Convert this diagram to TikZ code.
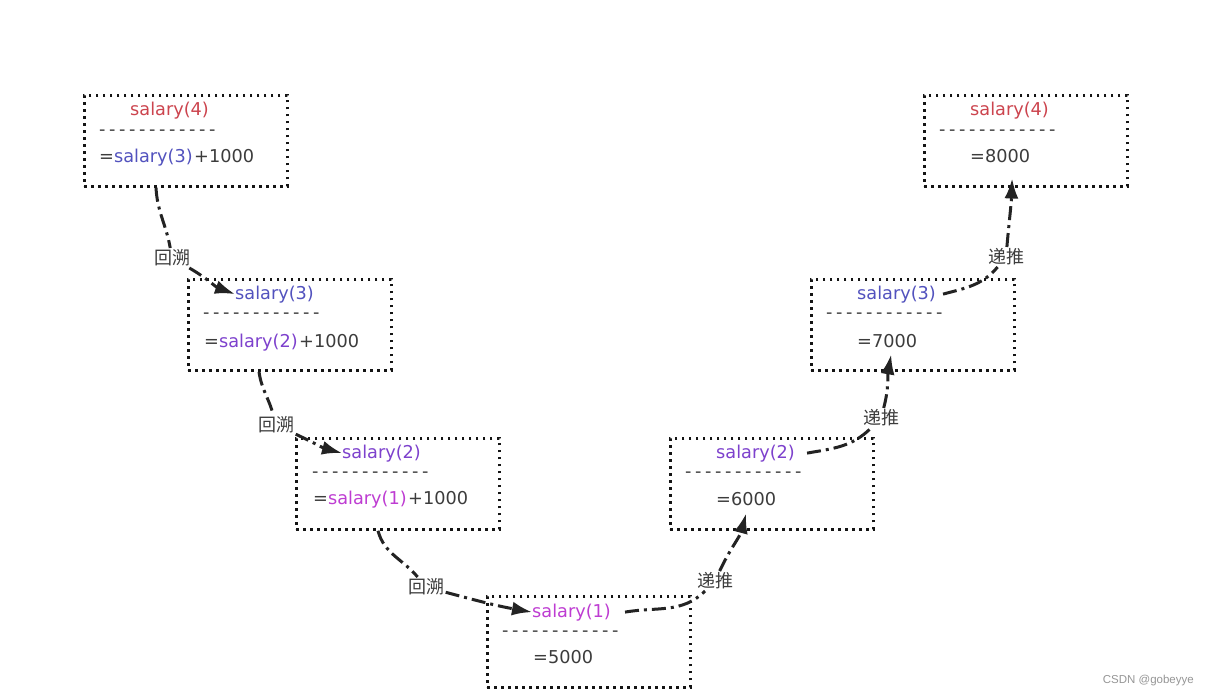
\documentclass[tikz,border=0pt]{standalone}
\usepackage{fontspec}
\setmainfont{DejaVu Sans}
\newfontfamily\cjk{Noto Sans CJK SC}
\newfontfamily\wmfont{Liberation Sans}
\usetikzlibrary{arrows.meta}
\definecolor{cred}{RGB}{204,68,78}
\definecolor{cblue}{RGB}{82,82,190}
\definecolor{cpurple}{RGB}{125,65,205}
\definecolor{cmag}{RGB}{190,60,210}
\definecolor{txt}{RGB}{60,60,60}
\definecolor{boxc}{RGB}{20,20,20}
\definecolor{linec}{RGB}{35,35,35}
\definecolor{wmc}{RGB}{150,150,150}
\newcommand\hyrow{\makebox[10pt]{-}\makebox[10pt]{-}\makebox[10pt]{-}\makebox[10pt]{-}\makebox[10pt]{-}\makebox[10pt]{-}\makebox[10pt]{-}\makebox[10pt]{-}\makebox[10pt]{-}\makebox[10pt]{-}\makebox[10pt]{-}\makebox[10pt]{-}}
\tikzset{
  dbox/.style={draw=boxc, line width=2.8pt, dash pattern=on 2.8pt off 4.2pt,
    minimum width=203pt, minimum height=91pt, anchor=north west, inner sep=0pt},
  txtnode/.style={anchor=base west, inner sep=0pt, text=txt, font=\fontsize{17.7}{20}\selectfont},
  dashnode/.style={anchor=west, inner sep=0pt, text=txt, font=\fontsize{17.7}{20}\selectfont},
  conn/.style={draw=linec, line width=3pt, dash pattern=on 14pt off 5pt on 3pt off 5pt},
  arr/.style={conn, -{Latex[length=20pt,width=14pt]}},
  lab/.style={font=\cjk\fontsize{18}{20}\selectfont, text=txt, fill=white, inner sep=1.5pt},
}
\begin{document}
\begin{tikzpicture}[x=1pt,y=-1pt]
\useasboundingbox (0,0) rectangle (1208,698);
\fill[white] (0,0) rectangle (1208,698);

% left column
\node[dbox] (L4) at (83,94) {};
\node[txtnode] (L4t) at (130,116) {\textcolor{cred}{salary(4)}};
\node[dashnode] (L4d) at (97,133) {\hyrow};
\node[txtnode] (L4f) at (99,163) {=\textcolor{cblue}{salary(3)}\kern1.5pt+1000};

\node[dbox] (L3) at (187,278) {};
\node[txtnode] (L3t) at (235,299) {\textcolor{cblue}{salary(3)}};
\node[dashnode] (L3d) at (201,316) {\hyrow};
\node[txtnode] (L3f) at (204,347) {=\textcolor{cpurple}{salary(2)}\kern1.5pt+1000};

\node[dbox] (L2) at (295,437) {};
\node[txtnode] (L2t) at (342,458) {\textcolor{cpurple}{salary(2)}};
\node[dashnode] (L2d) at (310,475) {\hyrow};
\node[txtnode] (L2f) at (313,504) {=\textcolor{cmag}{salary(1)}\kern1.5pt+1000};

% bottom
\node[dbox] (B1) at (486,595) {};
\node[txtnode] (B1t) at (532,617) {\textcolor{cmag}{salary(1)}};
\node[dashnode] (B1d) at (500,634) {\hyrow};
\node[txtnode] (B1f) at (533,663) {=5000};

% right column
\node[dbox] (R2) at (669,437) {};
\node[txtnode] (R2t) at (716,458) {\textcolor{cpurple}{salary(2)}};
\node[dashnode] (R2d) at (683,475) {\hyrow};
\node[txtnode] (R2f) at (716,505) {=6000};

\node[dbox] (R3) at (810,278) {};
\node[txtnode] (R3t) at (857,299) {\textcolor{cblue}{salary(3)}};
\node[dashnode] (R3d) at (824,316) {\hyrow};
\node[txtnode] (R3f) at (857,347) {=7000};

\node[dbox] (R4) at (923,94) {};
\node[txtnode] (R4t) at (970,116) {\textcolor{cred}{salary(4)}};
\node[dashnode] (R4d) at (937,133) {\hyrow};
\node[txtnode] (R4f) at (970,163) {=8000};

% labels
\node[lab] (lab1) at (172,258) {回溯};
\node[lab] (lab2) at (276,425) {回溯};
\node[lab] (lab3) at (426,587) {回溯};
\node[lab] (lab4) at (715,581) {递推};
\node[lab] (lab5) at (881,418) {递推};
\node[lab] (lab6) at (1006,257) {递推};

% start coordinates
\coordinate (s1) at ([xshift=73pt]L4.south west);
\coordinate (s2) at ([xshift=72pt]L3.south west);
\coordinate (s3) at ([xshift=83pt]L2.south west);
\coordinate (s4) at ([xshift=14pt]B1t.east);
\coordinate (s5) at ([xshift=12pt]R2t.east);
\coordinate (s6) at ([xshift=7pt]R3t.east);

% connectors (backtracking)
\draw[conn] (s1) to[out=-87,in=100] (lab1);
\draw[arr] (lab1) to[out=-30,in=160] (L3t.west);
\draw[conn] (s2) to[out=-82,in=105] (lab2);
\draw[arr] (lab2) to[out=-25,in=165] (L2t.west);
\draw[conn] (s3) to[out=-75,in=130] (lab3);
\draw[arr] (lab3) to[out=-15,in=170] (B1t.west);

% connectors (recurrence)
\draw[conn] (s4) to[out=10,in=-135] (lab4);
\draw[arr] (lab4) to[out=65,in=-105] ([yshift=-8pt]R2f.south);
\draw[conn] (s5) to[out=10,in=-135] (lab5);
\draw[arr] (lab5) to[out=75,in=-100] ([xshift=4pt,yshift=-7pt]R3f.south);
\draw[conn] (s6) to[out=15,in=-130] (lab6);
\draw[arr] (lab6) to[out=85,in=-92] ([xshift=12pt,yshift=-15pt]R4f.south);

% watermark
\node[anchor=east, inner sep=0pt, text=wmc, font=\wmfont\fontsize{11.5}{13}\selectfont] (wm) at (1194,681) {CSDN @gobeyye};
\end{tikzpicture}
\end{document}
